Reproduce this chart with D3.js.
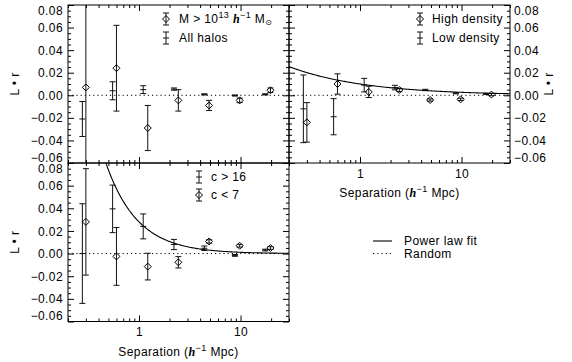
<!DOCTYPE html>
<html><head><meta charset="utf-8">
<script src="https://cdn.jsdelivr.net/npm/d3@7"></script>
<style>
body{margin:0;background:#fff}
svg{display:block}
text{font-family:"Liberation Sans",Arial,Helvetica,sans-serif;fill:#000;letter-spacing:0.4px}
</style>
</head><body>
<svg id="chart" width="572" height="362"></svg>
<script>
// ---------- data ----------
const sepDiamond = [0.30, 0.60, 1.22, 2.44, 4.9, 9.8, 19.7];
const sepPlain   = [0.277, 0.55, 1.10, 2.21, 4.4, 8.8, 17.5];

// top-left: halo mass
const massiveVal = [0.007, 0.024, -0.029, -0.0045, -0.009, -0.0045, 0.0045];
const massiveErr = [0.10, 0.038, 0.020, 0.0095, 0.0045, 0.002, 0.002];
const allHalosVal = [-0.021, 0.004, 0.005, 0.0055, 0.0008, -0.0002, 0.0008];
const allHalosErr = [0.0155, 0.008, 0.0035, 0.001, 0.0005, 0.0005, 0.0005];

// top-right: environment density
const highDensVal = [-0.024, 0.010, 0.003, 0.0047, -0.0042, -0.0036, 0.0006];
const highDensErr = [0.0175, 0.009, 0.005, 0.0015, 0.001, 0.001, 0.001];
const lowDensVal  = [-0.012, -0.019, 0.009, 0.0068, 0.0047, 0.0018, 0.0012];
const lowDensErr  = [0.030, 0.016, 0.006, 0.002, 0.0006, 0.0005, 0.0005];

// bottom-left: concentration
const cHighVal = [0.0, 0.0395, 0.024, 0.008, 0.0047, -0.0016, 0.0031];
const cHighErr = [0.044, 0.021, 0.011, 0.0045, 0.002, 0.0008, 0.0008];
const cLowVal  = [0.028, -0.0025, -0.0115, -0.0077, 0.0107, 0.0069, 0.0049];
const cLowErr  = [0.047, 0.0255, 0.0118, 0.005, 0.0015, 0.0012, 0.0012];

// power-law fits  L·r = A * s^(-gamma)
const fitDensity = [0.010, 0.58];
const fitConc    = [0.028, 1.40];

// axes
const yDomain = [-0.06, 0.08];
const xDomain = [0.2, 30];
const yTickVals = [-0.06, -0.04, -0.02, 0.00, 0.02, 0.04, 0.06, 0.08];
const yTickLabels = ["\u22120.06", "\u22120.04", "\u22120.02", "0.00", "0.02", "0.04", "0.06", "0.08"];
const yMinorVals = [-0.055,-0.05,-0.045,-0.035,-0.03,-0.025,-0.015,-0.01,-0.005,0.005,0.01,0.015,0.025,0.03,0.035,0.045,0.05,0.055,0.065,0.07,0.075];
const xTickVals = [1, 10];
const xTickLabels = ["1", "10"];
const xMinorVals = [0.2,0.3,0.4,0.5,0.6,0.7,0.8,0.9,2,3,4,5,6,7,8,9,20,30];

// ---------- drawing ----------
const svg = d3.select("#chart");
const FS = 12;

const panels = [
  {id:"tl", x:[68,289], y:[5,163], left:true, right:false, bottom:false},
  {id:"tr", x:[289,510], y:[5,163], left:false, right:true, bottom:true},
  {id:"bl", x:[68,289], y:[163,321.5], left:true, right:false, bottom:true}
];

function fmtY(v){ const i = yTickVals.findIndex(t=>Math.abs(t-v)<1e-9); return yTickLabels[i]; }
function fmtX(v){ const i = xTickVals.indexOf(v); return xTickLabels[i]; }
function yLabelDy(d){ return d===0.08 ? "9px" : (d===-0.06 ? "-2px" : "0.34em"); }

panels.forEach(p=>{
  p.xs = d3.scaleLog().domain(xDomain).range(p.x);
  p.ys = d3.scaleLinear().domain(yDomain).range([p.y[1], p.y[0]]);
  const g = svg.append("g");
  p.g = g;
  svg.append("clipPath").attr("id","clip-"+p.id).append("rect")
    .attr("x",p.x[0]).attr("y",p.y[0]).attr("width",p.x[1]-p.x[0]).attr("height",p.y[1]-p.y[0]);

  const axisStyle = sel => { sel.select(".domain").remove(); sel.selectAll("line").attr("stroke","#000").attr("stroke-width",1); sel.selectAll("text").attr("font-size",FS).attr("font-family","Liberation Sans, Arial, sans-serif"); };

  // left
  g.append("g").attr("transform",`translate(${p.x[0]},0)`)
    .call(d3.axisLeft(p.ys).tickValues(yTickVals).tickSize(-6).tickSizeOuter(0).tickPadding(5)
      .tickFormat(p.left ? fmtY : ""))
    .call(axisStyle)
    .call(s=>{ s.selectAll(".tick text").attr("dy", yLabelDy); });
  g.append("g").attr("transform",`translate(${p.x[0]},0)`)
    .call(d3.axisLeft(p.ys).tickValues(yMinorVals).tickSize(-3).tickSizeOuter(0).tickFormat(""))
    .call(axisStyle);
  // right
  g.append("g").attr("transform",`translate(${p.x[1]},0)`)
    .call(d3.axisRight(p.ys).tickValues(yTickVals).tickSize(-6).tickSizeOuter(0).tickPadding(4)
      .tickFormat(p.right ? fmtY : ""))
    .call(axisStyle)
    .call(s=>{ s.selectAll(".tick text").attr("dy", yLabelDy); });
  g.append("g").attr("transform",`translate(${p.x[1]},0)`)
    .call(d3.axisRight(p.ys).tickValues(yMinorVals).tickSize(-3).tickSizeOuter(0).tickFormat(""))
    .call(axisStyle);
  // top
  g.append("g").attr("transform",`translate(0,${p.y[0]})`)
    .call(d3.axisTop(p.xs).tickValues(xTickVals).tickSize(-6).tickSizeOuter(0).tickFormat(""))
    .call(axisStyle);
  g.append("g").attr("transform",`translate(0,${p.y[0]})`)
    .call(d3.axisTop(p.xs).tickValues(xMinorVals).tickSize(-3).tickSizeOuter(0).tickFormat(""))
    .call(axisStyle);
  // bottom
  g.append("g").attr("transform",`translate(0,${p.y[1]})`)
    .call(d3.axisBottom(p.xs).tickValues(xTickVals).tickSize(-6).tickSizeOuter(0).tickPadding(6)
      .tickFormat(p.bottom ? fmtX : ""))
    .call(axisStyle);
  g.append("g").attr("transform",`translate(0,${p.y[1]})`)
    .call(d3.axisBottom(p.xs).tickValues(xMinorVals).tickSize(-3).tickSizeOuter(0).tickFormat(""))
    .call(axisStyle);

  // border
  g.append("rect").attr("x",p.x[0]).attr("y",p.y[0]).attr("width",p.x[1]-p.x[0]).attr("height",p.y[1]-p.y[0])
    .attr("fill","none").attr("stroke","#000").attr("stroke-width",1);

  // zero line
  g.append("line").attr("x1",p.x[0]).attr("x2",p.x[1]).attr("y1",p.ys(0)).attr("y2",p.ys(0))
    .attr("stroke","#000").attr("stroke-width",1).attr("stroke-dasharray","1.2,3");

  // y label
  const ylx = p.left ? 15 : 549;
  if (p.left || p.right) {
    g.append("text").attr("transform",`translate(${ylx},${(p.y[0]+p.y[1])/2}) rotate(-90)`)
      .attr("text-anchor","middle").attr("dy","0.35em").attr("font-size",FS).text("L \u2022 r");
  }
  // x label
  if (p.bottom) {
    const t = g.append("text").attr("x",(p.x[0]+p.x[1])/2).attr("y",p.y[1]+34)
      .attr("text-anchor","middle").attr("font-size",FS);
    t.append("tspan").text("Separation (");
    t.append("tspan").attr("font-style","italic").attr("font-weight","bold").attr("font-family","Liberation Serif, serif").text("h");
    t.append("tspan").attr("font-size",9).attr("dy",-5).text("\u22121");
    t.append("tspan").attr("dy",5).text(" Mpc)");
  }
});

function diamondPath(cx, cy, r){
  const pth = d3.path();
  pth.moveTo(cx, cy-r); pth.lineTo(cx+r, cy); pth.lineTo(cx, cy+r); pth.lineTo(cx-r, cy); pth.closePath();
  return pth.toString();
}

function drawSeries(p, xs, vals, errs, diamond){
  const g = p.g.append("g").attr("clip-path",`url(#clip-${p.id})`);
  const cap = 3;
  vals.forEach((v,i)=>{
    const x = p.xs(xs[i]);
    const yT = p.ys(v+errs[i]), yB = p.ys(v-errs[i]), yc = p.ys(v);
    g.append("line").attr("x1",x).attr("x2",x).attr("y1",yT).attr("y2",yB).attr("stroke","#111").attr("stroke-width",1);
    g.append("line").attr("x1",x-cap).attr("x2",x+cap).attr("y1",yT).attr("y2",yT).attr("stroke","#111");
    g.append("line").attr("x1",x-cap).attr("x2",x+cap).attr("y1",yB).attr("y2",yB).attr("stroke","#111");
    if (diamond) {
      g.append("path").attr("d",diamondPath(x,yc,3.5)).attr("fill","none").attr("stroke","#000").attr("stroke-width",1);
    } else {
      g.append("line").attr("x1",x-cap).attr("x2",x+cap).attr("y1",yc).attr("y2",yc).attr("stroke","#111");
    }
  });
}

function drawFit(p, fit){
  const [A, gam] = fit;
  const lo = Math.log10(xDomain[0]), hi = Math.log10(xDomain[1]);
  const xsamp = d3.range(0, 201).map(i => Math.pow(10, lo + i/200*(hi-lo)));
  const line = d3.line().x(d=>p.xs(d)).y(d=>p.ys(A*Math.pow(d,-gam)));
  p.g.append("path").attr("clip-path",`url(#clip-${p.id})`).attr("d",line(xsamp))
    .attr("fill","none").attr("stroke","#000").attr("stroke-width",1.1);
}

const [TL, TR, BL] = panels;
drawSeries(TL, sepPlain, allHalosVal, allHalosErr, false);
drawSeries(TL, sepDiamond, massiveVal, massiveErr, true);
drawFit(TR, fitDensity);
drawSeries(TR, sepPlain, lowDensVal, lowDensErr, false);
drawSeries(TR, sepDiamond, highDensVal, highDensErr, true);
drawFit(BL, fitConc);
drawSeries(BL, sepPlain, cHighVal, cHighErr, false);
drawSeries(BL, sepDiamond, cLowVal, cLowErr, true);

// legends
function legSym(x, y, diamond){
  const g = svg.append("g");
  const h = 6, cap = 3;
  g.append("line").attr("x1",x).attr("x2",x).attr("y1",y-h).attr("y2",y+h).attr("stroke","#111");
  g.append("line").attr("x1",x-cap).attr("x2",x+cap).attr("y1",y-h).attr("y2",y-h).attr("stroke","#111");
  g.append("line").attr("x1",x-cap).attr("x2",x+cap).attr("y1",y+h).attr("y2",y+h).attr("stroke","#111");
  if (diamond) g.append("path").attr("d",diamondPath(x,y,3.5)).attr("fill","none").attr("stroke","#000");
  else g.append("line").attr("x1",x-cap).attr("x2",x+cap).attr("y1",y).attr("y2",y).attr("stroke","#111");
}
function legText(x, y){
  return svg.append("text").attr("x",x).attr("y",y).attr("dy","0.35em").attr("font-size",FS);
}
// top-left
legSym(166, 19, true);
{
  const t = legText(179, 19);
  t.append("tspan").text("M > 10");
  t.append("tspan").attr("font-size",9).attr("dy",-5).text("13");
  t.append("tspan").attr("dy",5).text(" ");
  t.append("tspan").attr("font-style","italic").attr("font-weight","bold").attr("font-family","Liberation Serif, serif").text("h");
  t.append("tspan").attr("font-size",9).attr("dy",-5).text("\u22121");
  t.append("tspan").attr("dy",5).text(" M");
  t.append("tspan").attr("font-size",8).attr("dy",2).attr("font-family","DejaVu Sans, sans-serif").text("\u2299");
}
legSym(166, 38, false);
legText(179, 38).text("All halos");
// top-right
legSym(420, 19, true);
legText(432, 19).text("High density");
legSym(420, 38, false);
legText(432, 38).text("Low density");
// bottom-left
legSym(199, 177, false);
legText(211, 177).text("c > 16");
legSym(199, 195, true);
legText(211, 195).text("c < 7");
// bottom-right
svg.append("line").attr("x1",373).attr("x2",392).attr("y1",241).attr("y2",241).attr("stroke","#000").attr("stroke-width",1.1);
legText(404, 241).text("Power law fit");
svg.append("line").attr("x1",373).attr("x2",392).attr("y1",253.5).attr("y2",253.5).attr("stroke","#000").attr("stroke-dasharray","1.2,3");
legText(404, 253.5).text("Random");
</script>
</body></html>
